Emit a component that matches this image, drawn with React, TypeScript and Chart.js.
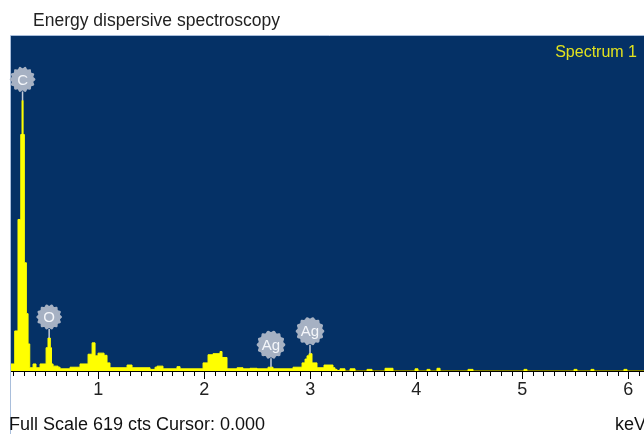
import React, { useEffect, useRef } from "react";
import { Chart, registerables } from "chart.js";

Chart.register(...registerables);

// Spectrum: each count holds from its energy up to the next energy
const energyKeV = [
  0.177, 0.212, 0.243, 0.269, 0.281, 0.291, 0.303, 0.322, 0.338, 0.354,
  0.385, 0.413, 0.451, 0.508, 0.526, 0.548, 0.559, 0.574, 0.621, 0.64,
  0.734, 0.828, 0.904, 0.942, 0.97, 0.998, 1.055, 1.083, 1.111, 1.272,
  1.319, 1.489, 1.536, 1.555, 1.611, 1.743, 1.772, 1.989, 2.036, 2.083,
  2.149, 2.168, 2.215, 2.31, 2.366, 2.432, 2.498, 2.602, 2.649, 2.838,
  2.923, 2.951, 2.97, 2.989, 3.017, 3.064, 3.13, 3.215, 3.234, 3.253,
  3.281, 3.328, 3.376, 3.423, 3.536, 3.583, 3.706, 3.781, 3.989, 4.017,
  4.102, 4.13, 4.196, 4.225, 4.489, 4.536, 5.017, 5.045, 5.489, 5.517,
  5.649, 5.677, 5.96, 5.989, 6.187,
];
const counts = [
  13, 74, 280, 437, 500, 437, 200, 106, 50, 6,
  13, 6, 13, 43, 61, 43, 13, 9, 7, 4,
  7, 13, 31, 52, 28, 33, 29, 15, 6, 11,
  6, 3, 7, 9, 4, 8, 4, 15, 30, 32,
  36, 25, 4, 6, 4, 5, 4, 7, 4, 7,
  15, 22, 28, 32, 15, 6, 11, 6, 3, 1,
  4, 0, 4, 0, 3, 0, 5, 0, 4, 0,
  3, 0, 5, 0, 3, 0, 3, 0, 3, 0,
  3, 0, 3, 0, 0,
];

const majorTicks = [1, 2, 3, 4, 5, 6];
const minorStep = 0.1;

const peakElements = ["C", "O", "Ag", "Ag"];
const peakEnergies = [0.286, 0.537, 2.63, 2.998];
const peakTopCounts = [500, 61, 7, 32];

const fullScaleCounts = 619;
const axisMinKeV = 0.177;
const axisMaxKeV = 6.187;

const titleText = "Energy dispersive spectroscopy";
const spectrumName = "Spectrum 1";
const footerText = "Full Scale 619 cts Cursor: 0.000";
const unitText = "keV";

const FONT = "'Liberation Sans', Arial, sans-serif";

const decorPlugin = {
  id: "edsDecor",
  beforeDraw(chart: any) {
    const { ctx, chartArea: a } = chart;
    ctx.save();
    ctx.fillStyle = "#ffffff";
    ctx.fillRect(0, 0, chart.width, chart.height);
    ctx.fillStyle = "#053166";
    ctx.fillRect(a.left, a.top, a.right - a.left, a.bottom - a.top);
    ctx.restore();
  },
  afterDraw(chart: any) {
    const { ctx, chartArea: a } = chart;
    const xs = chart.scales.x;
    const ys = chart.scales.y;
    ctx.save();

    // light frame lines (left and top)
    ctx.strokeStyle = "#a9bedb";
    ctx.lineWidth = 1;
    ctx.beginPath();
    ctx.moveTo(a.left - 0.5, a.top - 0.5);
    ctx.lineTo(a.left - 0.5, chart.height);
    ctx.moveTo(a.left - 0.5, a.top - 0.5);
    ctx.lineTo(a.right, a.top - 0.5);
    ctx.stroke();

    // minor ticks
    ctx.strokeStyle = "#000000";
    ctx.lineWidth = 1;
    ctx.beginPath();
    const startIdx = Math.ceil(axisMinKeV / minorStep);
    const endIdx = Math.floor(axisMaxKeV / minorStep);
    for (let k = startIdx; k <= endIdx; k++) {
      if (k % 10 === 0) continue;
      const px = Math.round(xs.getPixelForValue(k * minorStep)) + 0.5;
      ctx.moveTo(px, a.bottom);
      ctx.lineTo(px, a.bottom + 5);
    }
    ctx.stroke();

    // peak labels
    peakElements.forEach((el, i) => {
      const px = xs.getPixelForValue(peakEnergies[i]);
      const py = ys.getPixelForValue(peakTopCounts[i]);
      const r = el.length > 1 ? 13.5 : 12;
      const cy = py - 9 - r;
      ctx.strokeStyle = "#c4ccd8";
      ctx.lineWidth = 1.5;
      ctx.beginPath();
      ctx.moveTo(px, cy + r);
      ctx.lineTo(px, py);
      ctx.stroke();
      ctx.beginPath();
      const n = 96;
      for (let k = 0; k <= n; k++) {
        const t = (k / n) * Math.PI * 2;
        const rr = r + 0.9 * Math.cos(t * 14);
        const qx = px + rr * Math.cos(t);
        const qy = cy + rr * Math.sin(t);
        if (k === 0) ctx.moveTo(qx, qy);
        else ctx.lineTo(qx, qy);
      }
      ctx.closePath();
      ctx.fillStyle = "#a6b1c3";
      ctx.fill();
      ctx.fillStyle = "#f4f6fa";
      ctx.font = `15px ${FONT}`;
      ctx.textAlign = "center";
      ctx.textBaseline = "middle";
      ctx.fillText(el, px, cy + 1);
    });

    // texts
    ctx.textBaseline = "alphabetic";
    ctx.fillStyle = "#222222";
    ctx.font = `17.5px ${FONT}`;
    ctx.textAlign = "left";
    ctx.fillText(titleText, a.left + 22, 25.5);

    ctx.fillStyle = "#e2e21e";
    ctx.font = `16px ${FONT}`;
    ctx.textAlign = "right";
    ctx.fillText(spectrumName, a.right - 11, 57);

    ctx.fillStyle = "#111111";
    ctx.font = `18px ${FONT}`;
    ctx.textAlign = "left";
    ctx.fillText(footerText, a.left - 2, 430);
    ctx.fillText(unitText, a.right - 33, 430);

    ctx.restore();
  },
};

export default function App() {
  const canvasRef = useRef<HTMLCanvasElement | null>(null);

  useEffect(() => {
    const canvas = canvasRef.current;
    if (!canvas) return;
    const points = energyKeV.map((e, i) => ({ x: e, y: counts[i] }));
    const chart = new Chart(canvas, {
      type: "line",
      data: {
        datasets: [
          {
            data: points,
            stepped: true,
            fill: "origin",
            backgroundColor: "#ffff00",
            borderColor: "#ffff00",
            borderWidth: 1,
            pointRadius: 0,
          },
        ],
      },
      options: {
        animation: false,
        responsive: false,
        devicePixelRatio: 1,
        events: [],
        layout: { padding: { left: 11, top: 36, right: 12, bottom: 0 } },
        plugins: {
          legend: { display: false },
          tooltip: { enabled: false },
          title: { display: false },
        },
        scales: {
          x: {
            type: "linear",
            min: axisMinKeV,
            max: axisMaxKeV,
            position: "bottom",
            z: 1,
            grid: {
              drawOnChartArea: false,
              drawTicks: true,
              tickLength: 8,
              color: "#000000",
              lineWidth: 1,
            },
            border: { display: true, color: "#000000", width: 2 },
            ticks: {
              autoSkip: false,
              maxRotation: 0,
              padding: 0,
              color: "#222222",
              font: { family: FONT, size: 18 },
              callback: (v: any) => String(v),
            },
            afterBuildTicks: (axis: any) => {
              axis.ticks = majorTicks.map((v) => ({ value: v }));
            },
            afterFit: (scale: any) => {
              scale.height = 63;
            },
          },
          y: {
            type: "linear",
            display: false,
            min: 0,
            max: fullScaleCounts,
          },
        },
      },
      plugins: [decorPlugin],
    });
    return () => chart.destroy();
  }, []);

  return (
    <div
      style={{
        position: "fixed",
        left: 0,
        top: 0,
        width: 644,
        height: 434,
        overflow: "hidden",
        background: "#ffffff",
      }}
    >
      <canvas
        ref={canvasRef}
        width={660}
        height={434}
        style={{ display: "block", width: 660, height: 434 }}
      />
    </div>
  );
}
